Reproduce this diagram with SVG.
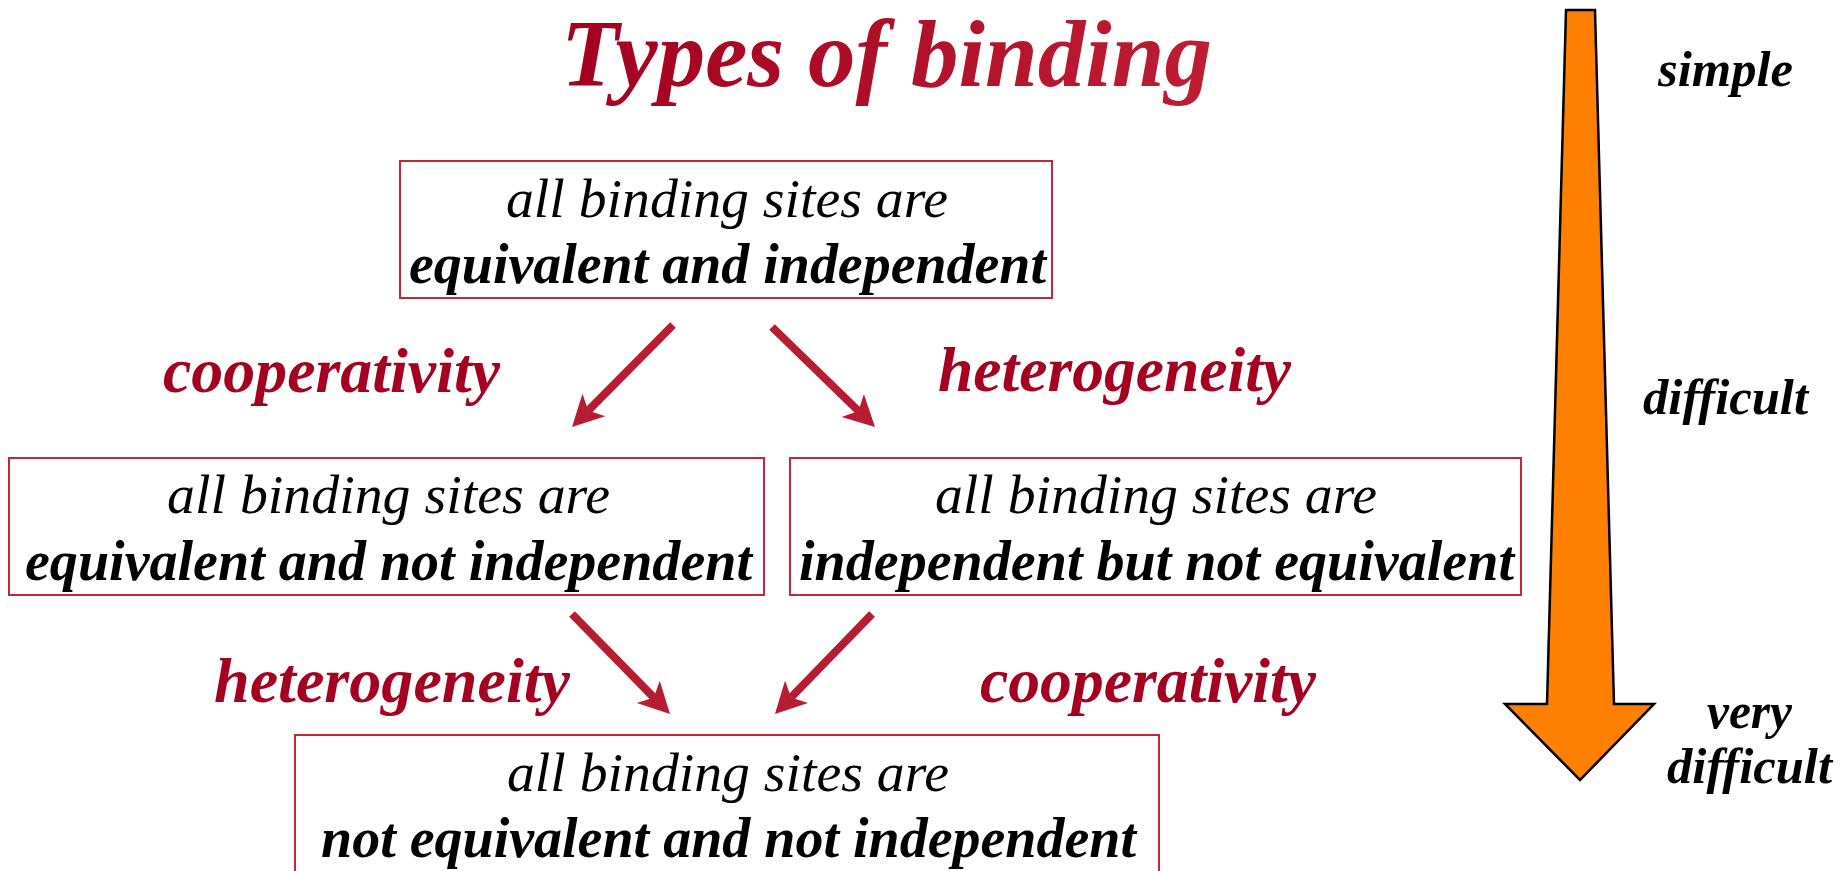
<svg xmlns="http://www.w3.org/2000/svg" width="1847" height="871" viewBox="0 0 1847 871">
  <defs>
    <linearGradient id="titleGrad" x1="0" y1="0" x2="1" y2="0">
      <stop offset="0" stop-color="#A2001F"/>
      <stop offset="1" stop-color="#BE1E34"/>
    </linearGradient>
    <marker id="head" markerUnits="userSpaceOnUse" orient="auto" refX="0" refY="0" markerWidth="40" markerHeight="40" viewBox="-10 -20 40 40" overflow="visible">
      <path d="M23,0 L-8,-16 L0,0 L-8,16 Z" fill="#B71C32"/>
    </marker>
    <style>
      text { font-family: 'Liberation Serif', monospace; font-style: italic; }
      .box { fill: #FFFFFF; stroke: #C0283A; stroke-width: 2; }
      .plain { font-size: 55px; fill: #000000; }
      .strong { font-weight: bold; font-size: 56px; fill: #000000; }
      .label { font-weight: bold; font-size: 64px; fill: #A50021; }
      .scale { font-weight: bold; font-size: 50px; fill: #000000; }
      .title { font-weight: bold; font-size: 96px; fill: url(#titleGrad); }
      .link { stroke: #B71C32; stroke-width: 8; fill: none; marker-end: url(#head); }
    </style>
  </defs>

  <rect x="0" y="0" width="1847" height="871" fill="#FFFFFF"/>

  <!-- heading -->
  <text class="title" x="561" y="86" textLength="651" lengthAdjust="spacingAndGlyphs">Types of binding</text>

  <!-- difficulty scale -->
  <g id="difficulty-scale">
    <polygon points="1566,10 1595,10 1614,704 1654,704 1580,780 1505,704 1547,704" fill="#FF7F00" stroke="#000000" stroke-width="2.5" stroke-linejoin="miter"/>
    <text class="scale" x="1658" y="86" textLength="135" lengthAdjust="spacingAndGlyphs">simple</text>
    <text class="scale" x="1643" y="414" textLength="165" lengthAdjust="spacingAndGlyphs">difficult</text>
    <text class="scale" x="1707" y="728" textLength="85" lengthAdjust="spacingAndGlyphs">very</text>
    <text class="scale" x="1667" y="783" textLength="165" lengthAdjust="spacingAndGlyphs">difficult</text>
  </g>

  <!-- connectors -->
  <g id="connectors">
    <line class="link" x1="673" y1="325" x2="588.2" y2="410.6"/>
    <line class="link" x1="772" y1="327" x2="858.5" y2="411"/>
    <line class="link" x1="572" y1="614" x2="653.9" y2="697.6"/>
    <line class="link" x1="872" y1="614" x2="791" y2="697.5"/>
    <text class="label" x="163" y="392" textLength="337" lengthAdjust="spacingAndGlyphs">cooperativity</text>
    <text class="label" x="938" y="391" textLength="353" lengthAdjust="spacingAndGlyphs">heterogeneity</text>
    <text class="label" x="214" y="702" textLength="356" lengthAdjust="spacingAndGlyphs">heterogeneity</text>
    <text class="label" x="980" y="702" textLength="336" lengthAdjust="spacingAndGlyphs">cooperativity</text>
  </g>

  <!-- nodes -->
  <g id="node-top">
    <rect class="box" x="400" y="161" width="652" height="137"/>
    <text class="plain" x="506" y="217" textLength="442" lengthAdjust="spacingAndGlyphs">all binding sites are</text>
    <text class="strong" x="409" y="283" textLength="637" lengthAdjust="spacingAndGlyphs">equivalent and independent</text>
  </g>

  <g id="node-left">
    <rect class="box" x="9" y="458" width="755" height="137"/>
    <text class="plain" x="167" y="513" textLength="443" lengthAdjust="spacingAndGlyphs">all binding sites are</text>
    <text class="strong" x="25" y="580" textLength="727" lengthAdjust="spacingAndGlyphs">equivalent and not independent</text>
  </g>

  <g id="node-right">
    <rect class="box" x="790" y="458" width="731" height="137"/>
    <text class="plain" x="935" y="513" textLength="442" lengthAdjust="spacingAndGlyphs">all binding sites are</text>
    <text class="strong" x="799" y="580" textLength="715" lengthAdjust="spacingAndGlyphs">independent but not equivalent</text>
  </g>

  <g id="node-bottom">
    <rect class="box" x="295" y="735" width="864" height="170"/>
    <text class="plain" x="507" y="791" textLength="442" lengthAdjust="spacingAndGlyphs">all binding sites are</text>
    <text class="strong" x="321" y="857" textLength="815" lengthAdjust="spacingAndGlyphs">not equivalent and not independent</text>
  </g>
</svg>
